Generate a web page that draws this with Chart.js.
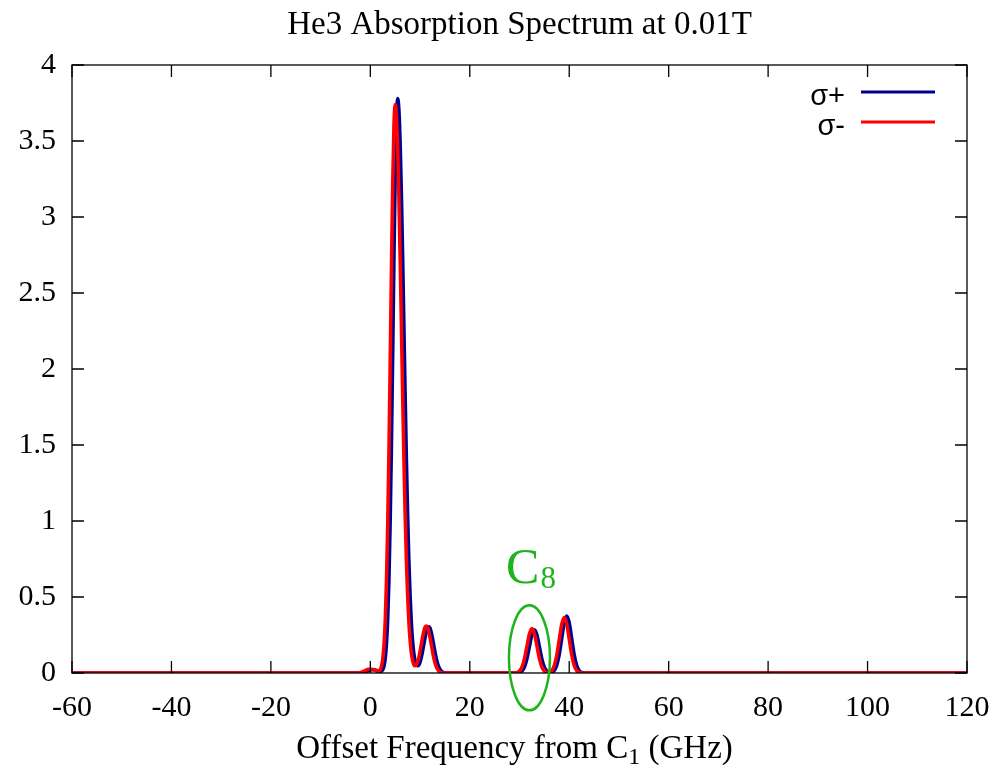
<!DOCTYPE html>
<html lang="en">
<head>
<meta charset="UTF-8" />
<title>He3 Absorption Spectrum at 0.01T</title>
<script src="https://cdn.jsdelivr.net/npm/chart.js@4.4.1/dist/chart.umd.min.js"></script>
<style>
  body { margin: 0; background: #fff; }
</style>
</head>
<body>
<canvas id="myChart" width="992" height="772"></canvas>
<script>
// offset frequency (GHz)
const freq = [
  -60, -20, -6, -4,
  -3, -2.5, -2, -1.5, -1, -0.5, 0, 0.5, 1,
  1.5, 1.75, 2, 2.25, 2.5, 2.75, 3, 3.25, 3.5, 3.75,
  4, 4.25, 4.5, 4.75, 5, 5.25, 5.5, 5.75, 6, 6.25,
  6.5, 6.75, 7, 7.25, 7.5, 7.75, 8, 8.25, 8.5, 8.75,
  9, 9.25, 9.5, 9.75, 10, 10.25, 10.5, 10.75, 11, 11.25,
  11.5, 11.75, 12, 12.25, 12.5, 12.75, 13, 13.25, 13.5, 13.75,
  14, 14.5, 15, 15.5, 16, 20, 25,
  28.5, 29, 29.5, 30, 30.5, 31, 31.5, 32, 32.5, 33,
  33.5, 34, 34.5, 35, 35.5, 36, 36.5, 37, 37.5, 38,
  38.5, 39, 39.5, 40, 40.5, 41, 41.5, 42, 42.5, 43,
  43.5, 44, 46, 60, 80, 100, 120
];

// sigma+ absorption
const sigmaPlus = [
  0, 0, 0, 0,
  0.0001, 0.0002, 0.001, 0.003, 0.0071, 0.0133, 0.0194, 0.022, 0.0194,
  0.0136, 0.011, 0.0098, 0.0122, 0.0215, 0.0452, 0.0953, 0.1905, 0.356, 0.619,
  1.001, 1.502, 2.094, 2.711, 3.261, 3.643, 3.78, 3.705, 3.489, 3.157,
  2.745, 2.293, 1.840, 1.419, 1.051, 0.748, 0.511, 0.337, 0.2136, 0.132,
  0.0819, 0.0554, 0.0469, 0.053, 0.0717, 0.1018, 0.141, 0.1855, 0.2303, 0.2692,
  0.2955, 0.305, 0.2955, 0.2692, 0.2303, 0.185, 0.1397, 0.099, 0.0659, 0.0413,
  0.0243, 0.007, 0.0016, 0.0003, 0, 0, 0,
  0, 0.0001, 0.0006, 0.0032, 0.0125, 0.0386, 0.0925, 0.1729, 0.2515, 0.285,
  0.2515, 0.1729, 0.0925, 0.0386, 0.0126, 0.004, 0.0048, 0.0166, 0.0507, 0.1218,
  0.2274, 0.3309, 0.375, 0.3309, 0.2274, 0.1218, 0.0507, 0.0165, 0.0042, 0.0008,
  0.0001, 0, 0, 0, 0, 0, 0
];

// sigma- absorption
const sigmaMinus = [
  0, 0, 0, 0,
  0.0003, 0.0012, 0.0037, 0.0088, 0.0164, 0.0238, 0.027, 0.0238, 0.0167,
  0.0115, 0.0131, 0.022, 0.045, 0.0945, 0.1886, 0.352, 0.613, 0.990, 1.486,
  2.072, 2.683, 3.226, 3.605, 3.74, 3.666, 3.452, 3.124, 2.716, 2.268,
  1.821, 1.404, 1.040, 0.740, 0.506, 0.333, 0.2115, 0.1306, 0.0812, 0.0551,
  0.0471, 0.0535, 0.0727, 0.1034, 0.1433, 0.1885, 0.234, 0.2736, 0.3004, 0.31,
  0.3004, 0.2736, 0.234, 0.188, 0.142, 0.1007, 0.067, 0.0419, 0.0247, 0.0136,
  0.0071, 0.0016, 0.0003, 0, 0, 0, 0,
  0.0001, 0.0006, 0.0033, 0.0129, 0.0396, 0.0951, 0.1777, 0.2586, 0.293, 0.2586,
  0.1777, 0.0951, 0.0396, 0.013, 0.0041, 0.0047, 0.0161, 0.0494, 0.1185, 0.2214,
  0.3221, 0.365, 0.3221, 0.2214, 0.1185, 0.0494, 0.016, 0.0041, 0.0008, 0.0001,
  0, 0, 0, 0, 0, 0, 0
];

const xTicks = [-60, -40, -20, 0, 20, 40, 60, 80, 100, 120];
const yTicks = [0, 0.5, 1, 1.5, 2, 2.5, 3, 3.5, 4];
const seriesNames = ['σ+', 'σ-'];

const serif = 'Liberation Serif, DejaVu Serif, serif';
const green = '#1db41d';

// frame, inward ticks, title, axis label, legend and the C8 mark
const decorations = {
  id: 'decorations',
  afterDatasetsDraw(chart) {
    const { ctx, chartArea: a, scales: { x, y } } = chart;
    ctx.save();
    ctx.strokeStyle = '#000';
    ctx.lineWidth = 1.3;
    ctx.strokeRect(a.left, a.top, a.right - a.left, a.bottom - a.top);
    ctx.beginPath();
    xTicks.forEach(v => {
      const px = x.getPixelForValue(v);
      ctx.moveTo(px, a.bottom); ctx.lineTo(px, a.bottom - 12);
      ctx.moveTo(px, a.top); ctx.lineTo(px, a.top + 12);
    });
    yTicks.forEach(v => {
      const py = y.getPixelForValue(v);
      ctx.moveTo(a.left, py); ctx.lineTo(a.left + 12, py);
      ctx.moveTo(a.right, py); ctx.lineTo(a.right - 12, py);
    });
    ctx.stroke();

    // C8 ellipse and label
    ctx.strokeStyle = green;
    ctx.lineWidth = 2.5;
    ctx.beginPath();
    ctx.ellipse(x.getPixelForValue(32), y.getPixelForValue(0.10), 20.5, 52.5, 0, 0, Math.PI * 2);
    ctx.stroke();
    ctx.fillStyle = green;
    ctx.textBaseline = 'alphabetic';
    ctx.textAlign = 'left';
    const cx = x.getPixelForValue(27.3), cy = y.getPixelForValue(0.59);
    ctx.font = '50px ' + serif;
    ctx.fillText('C', cx, cy);
    const cw = ctx.measureText('C').width;
    ctx.font = '31px ' + serif;
    ctx.fillText('8', cx + cw + 1, cy + 5);

    // legend
    ctx.font = '29px Liberation Sans, Arial, sans-serif';
    ctx.fillStyle = '#000';
    ctx.textAlign = 'right';
    const colors = ['#000090', '#ff0000'];
    seriesNames.forEach((name, i) => {
      const ly = a.top + 27 + i * 30;
      ctx.fillText(name, a.right - 122, ly + 13);
      ctx.strokeStyle = colors[i];
      ctx.lineWidth = 3;
      ctx.beginPath();
      ctx.moveTo(a.right - 106, ly);
      ctx.lineTo(a.right - 32, ly);
      ctx.stroke();
    });

    // title
    const mid = (a.left + a.right) / 2;
    ctx.textAlign = 'center';
    ctx.font = '33px ' + serif;
    ctx.fillText('He3 Absorption Spectrum at 0.01T', mid, 34);

    // x axis label with subscript
    ctx.textAlign = 'left';
    const big = '33px ' + serif, small = '24px ' + serif;
    const parts = [['Offset Frequency from C', big, 0], ['1', small, 6], [' (GHz)', big, 0]];
    let total = 0;
    parts.forEach(p => { ctx.font = p[1]; total += ctx.measureText(p[0]).width; });
    let px = mid - 5 - total / 2;
    parts.forEach(p => {
      ctx.font = p[1];
      ctx.fillText(p[0], px, 758 + p[2]);
      px += ctx.measureText(p[0]).width;
    });
    ctx.restore();
  }
};

const ctx = document.getElementById('myChart').getContext('2d');
new Chart(ctx, {
  type: 'line',
  data: {
    datasets: [
      {
        label: seriesNames[0],
        data: freq.map((f, i) => ({ x: f, y: sigmaPlus[i] })),
        borderColor: '#000090',
        borderWidth: 3.5,
        pointRadius: 0,
        cubicInterpolationMode: 'monotone',
        order: 2
      },
      {
        label: seriesNames[1],
        data: freq.map((f, i) => ({ x: f, y: sigmaMinus[i] })),
        borderColor: '#ff0000',
        borderWidth: 3.5,
        pointRadius: 0,
        cubicInterpolationMode: 'monotone',
        order: 1
      }
    ]
  },
  options: {
    responsive: false,
    animation: false,
    layout: { padding: { top: 65, right: 25, bottom: 0, left: 0 } },
    plugins: { legend: { display: false }, tooltip: { enabled: false } },
    scales: {
      x: {
        type: 'linear',
        min: -60,
        max: 120,
        afterBuildTicks: s => { s.ticks = xTicks.map(v => ({ value: v })); },
        afterFit: s => { s.height = 99; s.paddingLeft = 0; s.paddingRight = 0; },
        grid: { display: false, drawTicks: false },
        border: { display: false },
        ticks: { color: '#000', padding: 17, maxRotation: 0, font: { family: serif, size: 30 } }
      },
      y: {
        min: 0,
        max: 4,
        afterBuildTicks: s => { s.ticks = yTicks.map(v => ({ value: v })); },
        afterFit: s => { s.width = 72; s.paddingTop = 0; s.paddingBottom = 0; },
        grid: { display: false, drawTicks: false },
        border: { display: false },
        ticks: { color: '#000', padding: 16, font: { family: serif, size: 30 }, callback: v => String(v) }
      }
    }
  },
  plugins: [decorations]
});
</script>
</body>
</html>
